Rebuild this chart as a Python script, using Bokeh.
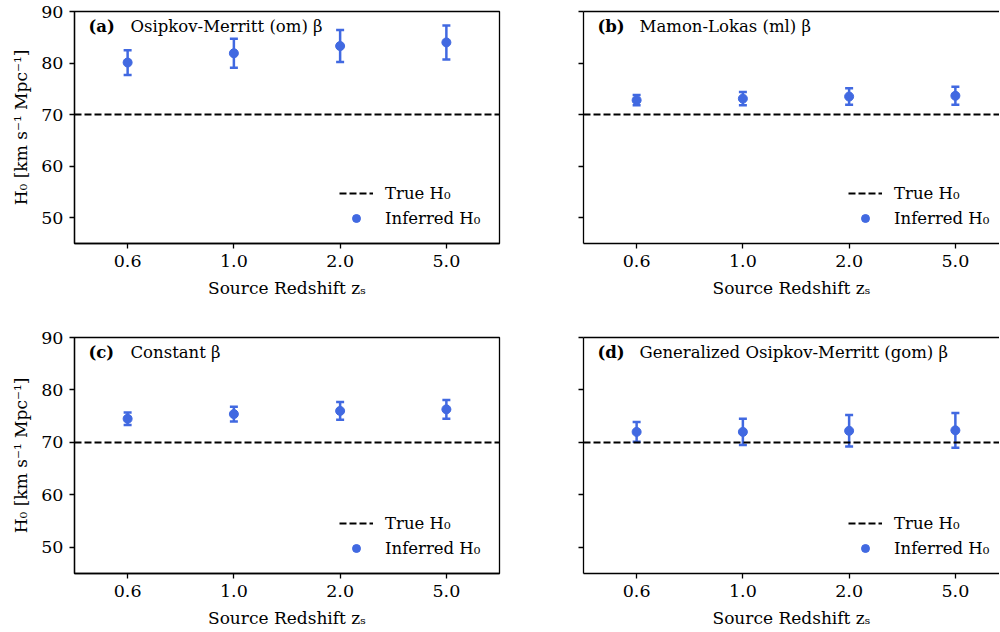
from bokeh.plotting import figure
from bokeh.models import (ColumnDataSource, Whisker, TeeHead, FixedTicker, Range1d,
                          Label, Legend, LegendItem, LinearAxis)
from bokeh.layouts import gridplot
from bokeh.embed import file_html
from bokeh.resources import INLINE

# ---- data -------------------------------------------------------------
redshifts = ["0.6", "1.0", "2.0", "5.0"]
H0_TRUE = 70.0

om_h0 = [80.1, 81.9, 83.3, 84.0]
om_err = [2.4, 2.8, 3.1, 3.3]

ml_h0 = [72.8, 73.1, 73.5, 73.65]
ml_err = [1.0, 1.3, 1.6, 1.75]

const_h0 = [74.5, 75.4, 76.0, 76.3]
const_err = [1.2, 1.4, 1.7, 1.8]

gom_h0 = [72.0, 72.0, 72.2, 72.3]
gom_err = [1.9, 2.5, 3.0, 3.3]

panel_tags = ["(a)", "(b)", "(c)", "(d)"]
panel_titles = ["Osipkov-Merritt (om) β", "Mamon-Lokas (ml) β",
                "Constant β", "Generalized Osipkov-Merritt (gom) β"]

y_ticks = [50, 60, 70, 80, 90]
Y_MIN, Y_MAX = 45, 90

# ---- styling ----------------------------------------------------------
FONT = "DejaVu Serif"
BLUE = "#4169e1"
FRAME_W = 425
PX_PER_UNIT = FRAME_W / 4.0


def make_panel(idx, h0, err, left_col, top_row):
    frame_w = FRAME_W if left_col else 416
    frame_h = 232 if top_row else 236
    x_end = -0.5 + frame_w / PX_PER_UNIT

    p = figure(
        frame_width=frame_w, frame_height=frame_h,
        min_border_left=74,
        min_border_right=10 if left_col else 0,
        min_border_top=11 if top_row else 34,
        min_border_bottom=60 if top_row else 59,
        x_range=Range1d(-0.5, x_end), y_range=Range1d(Y_MIN, Y_MAX),
        output_backend="svg", toolbar_location=None,
        background_fill_color="white", border_fill_color="white",
    )
    p.grid.visible = False
    xa = p.below[0]
    ya = p.left[0]

    if left_col:
        p.outline_line_color = "black"
        p.outline_line_width = 1.3
    else:
        # open on the right: only the top spine is drawn
        p.outline_line_color = None
        top = LinearAxis(ticker=FixedTicker(ticks=[]), major_tick_out=0,
                         major_tick_in=0, minor_tick_out=0, minor_tick_in=0,
                         major_label_standoff=0, axis_label_standoff=0,
                         axis_line_width=1.3, axis_line_color="black")
        p.add_layout(top, "above")

    xs = list(range(len(redshifts)))
    src = ColumnDataSource(dict(
        x=xs, h0=h0,
        lower=[v - e for v, e in zip(h0, err)],
        upper=[v + e for v, e in zip(h0, err)],
    ))

    # reference value
    true_r = p.hspan(y=[H0_TRUE], line_color="black", line_width=2, line_dash="7 3")

    # error bars with caps
    whisk = Whisker(
        base="x", lower="lower", upper="upper", source=src,
        line_color=BLUE, line_width=2.5,
        upper_head=TeeHead(size=8, line_color=BLUE, line_width=2.5),
        lower_head=TeeHead(size=8, line_color=BLUE, line_width=2.5),
    )
    p.add_layout(whisk)
    pts = p.scatter("x", "h0", source=src, size=9, marker="circle",
                    fill_color=BLUE, line_color=BLUE)

    # axes
    xa.ticker = FixedTicker(ticks=xs)
    xa.major_label_overrides = {i: lab for i, lab in enumerate(redshifts)}
    xa.axis_label = "Source Redshift zₛ"
    ya.ticker = FixedTicker(ticks=y_ticks)
    if left_col:
        ya.axis_label = "H₀ [km s⁻¹ Mpc⁻¹]"
    else:
        ya.major_label_overrides = {t: "" for t in y_ticks}

    for ax in (xa, ya):
        ax.axis_line_color = "black"
        ax.axis_line_width = 1.3
        ax.major_tick_line_color = "black"
        ax.major_tick_line_width = 1.3
        ax.major_tick_out = 5
        ax.major_tick_in = 0
        ax.minor_tick_line_color = None
        ax.major_label_text_font = FONT
        ax.major_label_text_font_size = "17.5px"
        ax.major_label_text_color = "black"
        ax.axis_label_text_font = FONT
        ax.axis_label_text_font_size = "17px"
        ax.axis_label_text_font_style = "normal"
        ax.axis_label_text_color = "black"
        ax.major_label_standoff = 6
    xa.axis_label_standoff = 8
    ya.axis_label_standoff = 7

    # panel heading
    p.add_layout(Label(x=14, y=frame_h - 15, x_units="screen", y_units="screen",
                       text=panel_tags[idx], text_font=FONT, text_font_size="16.5px",
                       text_font_style="bold", text_baseline="middle", text_color="black"))
    p.add_layout(Label(x=56, y=frame_h - 15, x_units="screen", y_units="screen",
                       text=panel_titles[idx], text_font=FONT, text_font_size="16.5px",
                       text_baseline="middle", text_color="black"))

    legend = Legend(
        items=[LegendItem(label="True H₀", renderers=[true_r]),
               LegendItem(label="Inferred H₀", renderers=[pts])],
        location=(265, 15), orientation="vertical",
        glyph_width=34, glyph_height=20, label_height=20, spacing=5,
        label_standoff=12, padding=6, margin=0,
        border_line_color=None, background_fill_alpha=0,
        label_text_font=FONT, label_text_font_size="16.5px", label_text_color="black",
    )
    p.add_layout(legend)
    return p


pa = make_panel(0, om_h0, om_err, True, True)
pb = make_panel(1, ml_h0, ml_err, False, True)
pc = make_panel(2, const_h0, const_err, True, False)
pd = make_panel(3, gom_h0, gom_err, False, False)

grid = gridplot([[pa, pb], [pc, pd]], toolbar_location=None)

open("out.html", "w").write(file_html(grid, INLINE))
